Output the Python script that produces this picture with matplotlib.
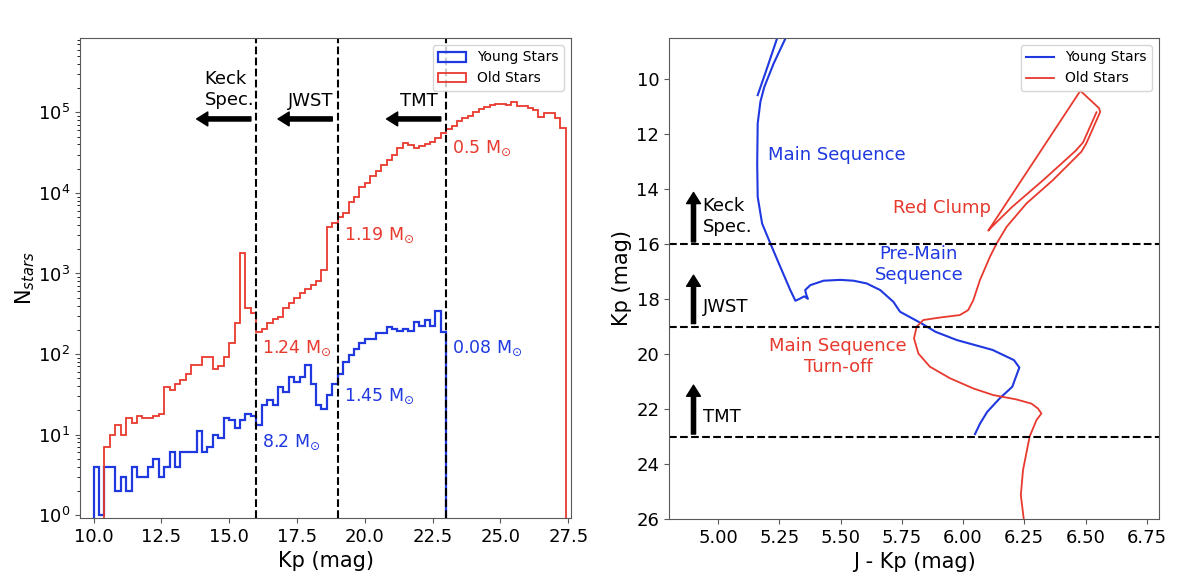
import numpy as np
import matplotlib
matplotlib.use("Agg")
import matplotlib.pyplot as plt

# ---------------- data ----------------
bin_edges = np.round(np.arange(10.0, 27.4001, 0.2), 2)

old_counts = [0, 0, 7, 10, 13, 10, 16, 14, 17, 16,
              16, 17, 18, 39, 36, 43, 48, 56, 73, 73,
              93, 93, 66, 71, 91, 138, 240, 1780, 369, 326,
              189, 203, 240, 270, 291, 369, 434, 491, 567, 636,
              720, 815, 1105, 3800, 4200, 5080, 5600, 7800, 9000, 11760,
              13430, 16260, 18930, 22280, 25700, 29650, 35900, 42170, 39450, 36550,
              38250, 40600, 43400, 47800, 55100, 61800, 68600, 78400, 84700, 91200,
              102300, 110500, 118000, 124000, 127600, 127600, 124000, 136400, 121600, 121600,
              112700, 107400, 88700, 97700, 97700, 84700, 64800]

young_counts = [4, 1, 4, 4, 2, 3, 2, 4, 3, 3,
                4, 5, 3, 4, 6, 4, 6, 6, 6, 11,
                6, 7, 10, 9, 16, 15, 12, 15, 18, 17,
                13, 23, 27, 23, 39, 34, 52, 45, 52, 73,
                43, 23, 21, 31, 43, 57, 80, 97, 114, 136,
                152, 152, 181, 181, 218, 203, 195, 207, 195, 252,
                223, 264, 223, 342, 186] + [0] * 22

limit_mags = [16, 19, 23]
limit_names = ["Keck\nSpec.", "JWST", "TMT"]

young_mass_labels = ["8.2", "1.45", "0.08"]
old_mass_labels = ["1.24", "1.19", "0.5"]

# isochrones: (J - Kp, Kp)
young_color = [5.162, 5.20, 5.241, 5.255, 5.285, 5.275, 5.227, 5.189, 5.173, 5.162,
               5.160, 5.162, 5.180, 5.214, 5.254, 5.295, 5.316, 5.333, 5.352, 5.367,
               5.360, 5.356, 5.377, 5.431, 5.499, 5.553, 5.607, 5.662, 5.716, 5.743,
               5.830, 5.888, 5.975, 6.121, 6.208, 6.230, 6.201, 6.150, 6.099, 6.070,
               6.049]
young_kp = [10.58, 9.60, 8.52, 8.20, 8.20, 8.52, 9.43, 10.28, 10.82, 11.61,
            13.07, 14.28, 15.25, 15.98, 16.82, 17.67, 18.06, 17.99, 17.90, 17.99,
            17.83, 17.67, 17.49, 17.33, 17.30, 17.33, 17.43, 17.67, 18.10, 18.46,
            18.88, 19.19, 19.49, 19.85, 20.22, 20.49, 21.19, 21.61, 22.10, 22.52,
            22.91]

old_color = [6.248, 6.236, 6.245, 6.272, 6.300, 6.320, 6.306, 6.279, 6.218, 6.123,
             6.042, 5.947, 5.865, 5.818, 5.800, 5.811, 5.838, 5.906, 5.987, 6.021,
             6.042, 6.069, 6.110, 6.137, 6.178, 6.259, 6.367, 6.483, 6.503, 6.560,
             6.555, 6.479, 6.103, 6.120, 6.200, 6.330, 6.460, 6.490, 6.545]
old_kp = [26.00, 25.13, 24.22, 23.00, 22.40, 22.16, 21.98, 21.80, 21.65, 21.49,
          21.25, 20.88, 20.46, 19.98, 19.43, 19.00, 18.76, 18.67, 18.58, 18.40,
          18.04, 17.31, 16.46, 15.98, 15.37, 14.52, 13.67, 12.64, 12.34, 11.19,
          11.05, 10.42, 15.51, 15.35, 14.65, 13.65, 12.60, 12.30, 11.20]

BLUE = "#1f38e0"
RED = "#e8392e"
SPINE = "0.35"

plt.rcParams["font.family"] = "DejaVu Sans"
fig = plt.figure(figsize=(12, 5.84), dpi=100)
ax1 = fig.add_axes([80 / 1200, 66 / 584, 491 / 1200, 480 / 584])
ax2 = fig.add_axes([669 / 1200, 65 / 584, 490 / 1200, 481 / 584])

for ax in (ax1, ax2):
    for s in ax.spines.values():
        s.set_color(SPINE)
    ax.tick_params(labelsize=13, color=SPINE)

# ---------------- left panel ----------------
edges = np.array(bin_edges)
centers = 0.5 * (edges[:-1] + edges[1:])
ax1.hist(centers, bins=edges, weights=young_counts, histtype="step",
         color=BLUE, lw=1.6, label="Young Stars")
ax1.hist(centers, bins=edges, weights=old_counts, histtype="step",
         color=RED, lw=1.3, label="Old Stars")
ax1.set_yscale("log")
ax1.set_xlim(9.5, 27.6)
ax1.set_ylim(0.92, 8.4e5)
ax1.set_xticks([10.0, 12.5, 15.0, 17.5, 20.0, 22.5, 25.0, 27.5])
ax1.set_xticklabels(["10.0", "12.5", "15.0", "17.5", "20.0", "22.5", "25.0", "27.5"])
ax1.set_xlabel("Kp (mag)", fontsize=15)
ax1.set_ylabel("N$_{stars}$", fontsize=15)
ax1.yaxis.set_label_coords(-0.088, 0.5)

for m in limit_mags:
    ax1.axvline(m, color="k", ls="--", lw=1.5)

text_x = [15.0, 18.0, 22.0]
text_y = [1.94e5, 1.40e5, 1.40e5]
for m, name, tx, ty in zip(limit_mags, limit_names, text_x, text_y):
    ax1.text(tx, ty, name, ha="center", va="center", multialignment="left",
             fontsize=13, color="k")
    ax1.annotate("", xy=(m - 2.2, 8.3e4), xytext=(m - 0.2, 8.3e4),
                 arrowprops=dict(facecolor="k", edgecolor="k", width=3,
                                 headwidth=10, headlength=8, shrink=0))

young_lab_y = [8.0, 29.5, 118]
old_lab_y = [118, 3000, 3.6e4]
for m, lab, yy in zip(limit_mags, young_mass_labels, young_lab_y):
    ax1.text(m + 0.22, yy, lab + " M$_{\\odot}$", color=BLUE, fontsize=12.5,
             ha="left", va="center")
for m, lab, yy in zip(limit_mags, old_mass_labels, old_lab_y):
    ax1.text(m + 0.22, yy, lab + " M$_{\\odot}$", color=RED, fontsize=12.5,
             ha="left", va="center")

ax1.legend(loc="upper right", fontsize=10)

# ---------------- right panel ----------------
ax2.plot(young_color, young_kp, color=BLUE, lw=1.5, label="Young Stars")
ax2.plot(old_color, old_kp, color=RED, lw=1.3, label="Old Stars")
ax2.set_xlim(4.8, 6.8)
ax2.set_ylim(26, 8.5)
ax2.set_xticks([5.0, 5.25, 5.5, 5.75, 6.0, 6.25, 6.5, 6.75])
ax2.set_xticklabels(["5.00", "5.25", "5.50", "5.75", "6.00", "6.25", "6.50", "6.75"])
ax2.set_yticks([10, 12, 14, 16, 18, 20, 22, 24, 26])
ax2.set_xlabel("J - Kp (mag)", fontsize=15)
ax2.set_ylabel("Kp (mag)", fontsize=15)
ax2.yaxis.set_label_coords(-0.076, 0.5)

for m in limit_mags:
    ax2.axhline(m, color="k", ls="--", lw=1.5)

arrow_tops = [14.12, 17.13, 21.13]
arrow_bots = [15.92, 18.89, 22.91]
label_y = [14.98, 18.28, 22.28]
for name, top, bot, ly in zip(limit_names, arrow_tops, arrow_bots, label_y):
    ax2.annotate("", xy=(4.90, top), xytext=(4.90, bot),
                 arrowprops=dict(facecolor="k", edgecolor="k", width=3,
                                 headwidth=10, headlength=8, shrink=0))
    ax2.text(4.937, ly, name, ha="left", va="center", fontsize=13, color="k")

ax2.text(5.205, 12.76, "Main Sequence", color=BLUE, fontsize=13, ha="left", va="center")
ax2.text(5.82, 16.73, "Pre-Main\nSequence", color=BLUE, fontsize=13, ha="center", va="center")
ax2.text(5.914, 14.67, "Red Clump", color=RED, fontsize=13, ha="center", va="center")
ax2.text(5.49, 20.1, "Main Sequence\nTurn-off", color=RED, fontsize=13, ha="center", va="center")

ax2.legend(loc="upper right", fontsize=10)

fig.savefig("out.png", dpi=100)
